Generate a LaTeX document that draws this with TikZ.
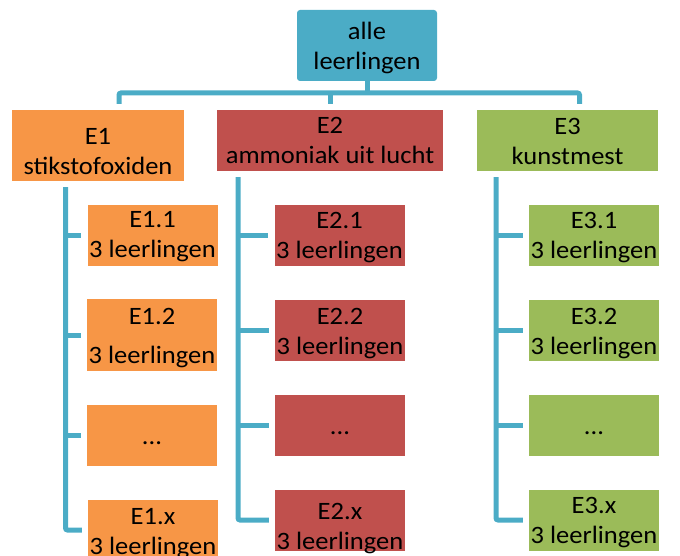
\documentclass[tikz,border=0pt]{standalone}
\usepackage{fontspec}
\setmainfont{Carlito}[FakeStretch=1.06]
\definecolor{kopblauw}{HTML}{4BACC6}
\definecolor{oranje}{HTML}{F79646}
\definecolor{rood}{HTML}{C0504D}
\definecolor{groen}{HTML}{9BBB59}
\tikzset{
    vak/.style={rectangle, inner sep=0pt, align=center, text=black, font=\fontsize{25}{30}\selectfont,
        text height=#1, text depth=0pt},
    vak/.default=45pt,
    kind/.style={vak=#1, minimum width=130pt, minimum height=61pt},
    kind/.default=45pt,
    puntjes/.style={kind=18pt},
    lijn/.style={draw=kopblauw, line width=5pt, rounded corners=2pt}
}
\begin{document}
\begin{tikzpicture}[x=1pt,y=-1pt]
\useasboundingbox (0,0) rectangle (680,556);
\clip (0,0) rectangle (680,556);

\node[vak=47.6pt, fill=kopblauw, rounded corners=3pt, minimum width=140pt, minimum height=71pt] (alle) at (367,45.5) {alle\\leerlingen};

\node[vak=59pt, fill=oranje, minimum width=172pt, minimum height=71pt] (e1) at (98,145.5) {E1\\stikstofoxiden};
\node[vak=47pt, fill=rood, minimum width=226pt, minimum height=61pt] (e2) at (330,140.5) {E2\\ammoniak uit lucht};
\node[vak=47.6pt, fill=groen, minimum width=181pt, minimum height=61pt] (e3) at (567.5,140.5) {E3\\kunstmest};

\node[kind, fill=oranje] (e11) at (152.5,235.5) {E1.1\\3 leerlingen};
\node[kind=56.6pt, fill=oranje, minimum height=72pt] (e12) at (152,335) {E1.2\\[9pt]3 leerlingen};
\node[puntjes, fill=oranje] (e1d) at (152,435) {...};
\node[kind=48pt, fill=oranje] (e1x) at (153,530) {E1.x\\3 leerlingen};

\node[kind=45.6pt, fill=rood] (e21) at (339.5,235.5) {E2.1\\3 leerlingen};
\node[kind=47.6pt, fill=rood] (e22) at (340,330.5) {E2.2\\3 leerlingen};
\node[puntjes, fill=rood] (e2d) at (340,425.5) {...};
\node[kind=58.6pt, fill=rood] (e2x) at (340,520) {E2.x\\3 leerlingen};

\node[kind=45.6pt, fill=groen] (e31) at (594,235.5) {E3.1\\3 leerlingen};
\node[kind=47.6pt, fill=groen] (e32) at (594,330.5) {E3.2\\3 leerlingen};
\node[puntjes, fill=groen] (e3d) at (594,425.5) {...};
\node[kind=46.6pt, fill=groen] (e3x) at (594,520) {E3.x\\3 leerlingen};

\coordinate (bus1) at (119,93);
\coordinate (bus3) at (579.5,93);
\coordinate (k1) at (65.5,0);
\coordinate (k2) at (238,0);
\coordinate (k3) at (496,0);

\draw[lijn] (alle.south) -- (alle.south |- bus1);
\draw[lijn, shorten <=6pt, shorten >=6pt] (e1.north -| bus1) -- (bus1) -- (bus3) -- (e3.north -| bus3);
\draw[lijn, shorten >=6pt] (e2.north |- bus1) -- (e2.north);

\draw[lijn, shorten <=6pt, shorten >=6pt] (e1.south -| k1) |- (e1x.west);
\draw[lijn, shorten <=6pt, shorten >=6pt] (e2.south -| k2) |- (e2x.west);
\draw[lijn, shorten <=6pt, shorten >=6pt] (e3.south -| k3) |- (e3x.west);

\foreach \n in {e11,e12,e1d}
    \draw[lijn, shorten >=6pt] (\n.west -| k1) -- (\n.west);
\foreach \n in {e21,e22,e2d}
    \draw[lijn, shorten >=6pt] (\n.west -| k2) -- (\n.west);
\foreach \n in {e31,e32,e3d}
    \draw[lijn, shorten >=6pt] (\n.west -| k3) -- (\n.west);

\end{tikzpicture}
\end{document}
